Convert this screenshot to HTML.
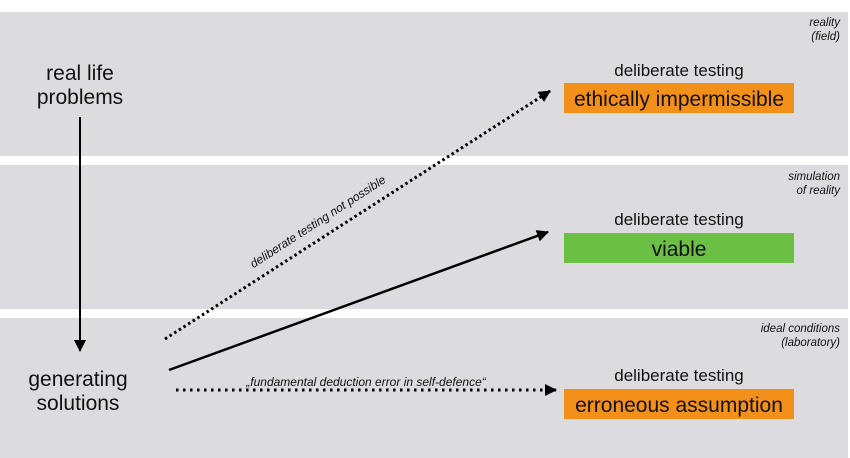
<!DOCTYPE html>
<html><head><meta charset="utf-8"><style>
html,body{margin:0;padding:0;background:#fff;}
svg{display:block}
text{font-family:"Liberation Sans",Arial,sans-serif;fill:#111}
</style></head><body>
<svg width="850" height="458" viewBox="0 0 850 458" xmlns="http://www.w3.org/2000/svg">
<defs>
<marker id="ah" markerWidth="12" markerHeight="12" refX="11" refY="6" orient="auto" markerUnits="userSpaceOnUse">
<path d="M0,0 L12,6 L0,12 z" fill="#000"/></marker>
<marker id="ah2" markerWidth="12" markerHeight="12" refX="11" refY="6" orient="auto" markerUnits="userSpaceOnUse">
<path d="M0,0 L12,6 L0,12 z" fill="#000"/></marker>
</defs>
<rect x="0" y="12" width="848" height="144" fill="#dcdcde"/>
<rect x="0" y="165" width="848" height="144" fill="#dcdcde"/>
<rect x="0" y="318" width="848" height="140" fill="#dcdcde"/>

<g font-style="italic" font-size="11.5" text-anchor="end">
<text x="840" y="26">reality</text><text x="840" y="40">(field)</text>
<text x="840" y="180">simulation</text><text x="840" y="194">of reality</text>
<text x="840" y="332">ideal conditions</text><text x="840" y="346">(laboratory)</text>
</g>

<g font-size="21" text-anchor="middle">
<text x="80" y="80">real life</text><text x="80" y="104">problems</text>
<text x="78" y="386">generating</text><text x="78" y="410">solutions</text>
</g>

<line x1="80" y1="117" x2="80" y2="351" stroke="#000" stroke-width="2" marker-end="url(#ah2)"/>

<g font-size="17" text-anchor="middle">
<text x="679" y="76">deliberate testing</text>
<text x="679" y="225">deliberate testing</text>
<text x="679" y="381">deliberate testing</text>
</g>
<rect x="564" y="83" width="230" height="30" fill="#f39019"/>
<rect x="564" y="233" width="230" height="30" fill="#6cbf45"/>
<rect x="564" y="389" width="230" height="30" fill="#f39019"/>
<g font-size="21" text-anchor="middle">
<text x="679" y="106">ethically impermissible</text>
<text x="679" y="256">viable</text>
<text x="679" y="412">erroneous assumption</text>
</g>

<line x1="165" y1="339" x2="550" y2="91" stroke="#000" stroke-width="3" stroke-dasharray="2.5 3" marker-end="url(#ah)"/>
<line x1="169" y1="370" x2="548" y2="232" stroke="#000" stroke-width="2.5" marker-end="url(#ah)"/>
<line x1="176" y1="390" x2="556" y2="390" stroke="#000" stroke-width="3" stroke-dasharray="2.5 4.5" marker-end="url(#ah)"/>

<text x="320" y="225" font-size="12" font-style="italic" text-anchor="middle" transform="rotate(-33 320 225)">deliberate testing not possible</text>
<text x="366" y="386" font-size="12" font-style="italic" text-anchor="middle">„fundamental deduction error in self-defence“</text>
</svg>
</body></html>
